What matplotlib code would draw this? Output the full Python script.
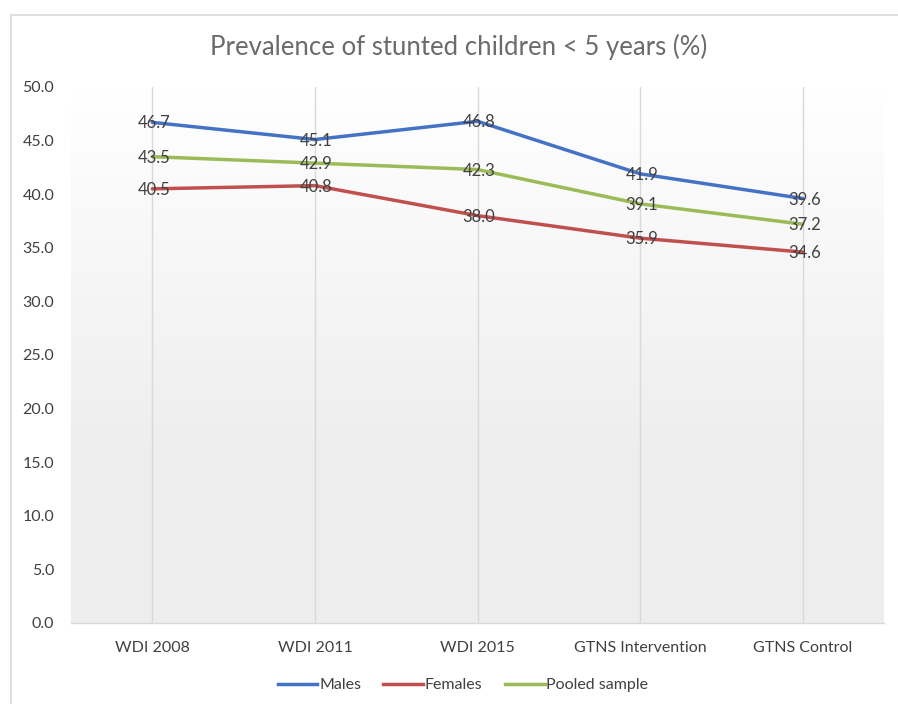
import matplotlib
matplotlib.use("Agg")
import matplotlib.pyplot as plt
import numpy as np
from matplotlib.patches import Rectangle
from matplotlib.lines import Line2D

categories = ["WDI 2008", "WDI 2011", "WDI 2015", "GTNS Intervention", "GTNS Control"]
males = [46.7, 45.1, 46.8, 41.9, 39.6]
females = [40.5, 40.8, 38.0, 35.9, 34.6]
pooled = [43.5, 42.9, 42.3, 39.1, 37.2]
yticks = [0, 5, 10, 15, 20, 25, 30, 35, 40, 45, 50]

plt.rcParams['font.family'] = ['Lato', 'DejaVu Sans']

fig = plt.figure(figsize=(8.98, 7.04), dpi=100)
# outer chart border (partly cut)
fig.patches.append(Rectangle((11/898, -0.1), 1.2, 1 - 15/704 + 0.1, transform=fig.transFigure,
                             fill=False, edgecolor="#d9d9d9", linewidth=1.2))

ax = fig.add_axes([71/898, 1 - 623/704, (884 - 71)/898, (623 - 87)/704])
x = np.arange(len(categories))
ax.set_xlim(-0.5, len(categories) - 0.5)
ax.set_ylim(0, 50)

# gradient background
grad = np.linspace(0, 1, 256).reshape(-1, 1)
top = np.array([1.0, 1.0, 1.0])
bot = np.array([0.93, 0.93, 0.93])
frac = np.clip((1 - grad) / 0.7, 0, 1)
img = bot * frac[..., None] + top * (1 - frac[..., None])
img = img.reshape(256, 1, 3)
ax.imshow(img, extent=[-0.5, len(categories) - 0.5, 0, 50], aspect='auto', origin='lower', zorder=0)

for xi in x:
    ax.axvline(xi, color="#d9d9d9", linewidth=1, zorder=1)

series = [(males, "#4472c4", "Males"), (females, "#c0504d", "Females"), (pooled, "#9bbb59", "Pooled sample")]
for vals_, col, lab in series:
    ax.plot(x, vals_, color=col, linewidth=2.5, zorder=3, label=lab, solid_capstyle='round')
    for xi, v in zip(x, vals_):
        ax.text(xi + 0.01, v - 0.1, f"{v:.1f}", ha='center', va='center', fontsize=12,
                color="#404040", zorder=4)

for s in ["top", "right", "left"]:
    ax.spines[s].set_visible(False)
ax.spines["bottom"].set_color("#d9d9d9")
ax.spines["bottom"].set_linewidth(1)
ax.set_xticks(x)
ax.set_xticklabels(categories, fontsize=11.5, color="#404040")
ax.set_yticks(yticks)
ax.set_yticklabels([f"{v:.1f}" for v in yticks], fontsize=11.5, color="#404040")
ax.tick_params(axis='both', length=0)
ax.tick_params(axis='x', pad=13)
ax.tick_params(axis='y', pad=12)

fig.text(459/898, 1 - 47/704, "Prevalence of stunted children < 5 years (%)", ha='center', va='center',
         fontsize=18.5, color="#6b6b6b")

handles = [Line2D([0], [0], color=c, linewidth=2.5) for _, c, _ in series]
labels = [l for _, _, l in series]
fig.legend(handles, labels, loc='center', bbox_to_anchor=(463/898, 1 - 685/704), ncol=3, frameon=False,
           fontsize=11.5, handlelength=2.5, handletextpad=0.1, columnspacing=1.4, labelcolor="#404040")

fig.savefig("out.png", dpi=100)
